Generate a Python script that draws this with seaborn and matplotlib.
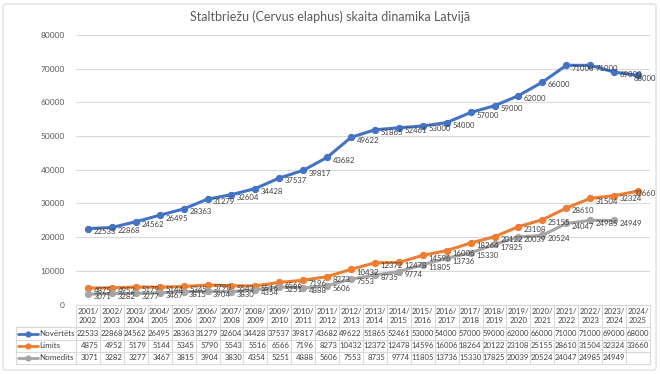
import numpy as np
import pandas as pd
import matplotlib
matplotlib.use("Agg")
import matplotlib.pyplot as plt
import matplotlib.transforms as mtransforms
from matplotlib.patches import FancyBboxPatch
from matplotlib.lines import Line2D
import seaborn as sns

seasons = ["2001/2002", "2002/2003", "2003/2004", "2004/2005", "2005/2006", "2006/2007",
           "2007/2008", "2008/2009", "2009/2010", "2010/2011", "2011/2012", "2012/2013",
           "2013/2014", "2014/2015", "2015/2016", "2016/2017", "2017/2018", "2018/2019",
           "2019/2020", "2020/2021", "2021/2022", "2022/2023", "2023/2024", "2024/2025"]
novertets = [22533, 22868, 24562, 26495, 28363, 31279, 32604, 34428, 37537, 39817, 43682, 49622,
             51865, 52461, 53000, 54000, 57000, 59000, 62000, 66000, 71000, 71000, 69000, 68000]
limits = [4875, 4952, 5179, 5144, 5345, 5790, 5543, 5516, 6566, 7196, 8273, 10432,
          12372, 12478, 14596, 16006, 18264, 20122, 23108, 25155, 28610, 31504, 32324, 33660]
nomedits = [3071, 3282, 3277, 3467, 3815, 3904, 3830, 4354, 5251, 4888, 5606, 7553,
            8735, 9774, 11805, 13736, 15330, 17825, 20039, 20524, 24047, 24985, 24949, np.nan]

series_names = ["Novērtēts", "Limits", "Nomedīts"]
colors = ["#4472C4", "#ED7D31", "#A5A5A5"]
title = "Staltbriežu (Cervus elaphus) skaita dinamika Latvijā"

W, H = 660, 374
sns.set_style("white")
plt.rcParams["font.family"] = ["Lato", "DejaVu Sans"]

fig = plt.figure(figsize=(W / 100, H / 100), dpi=100)
fig.patch.set_facecolor("white")

# chart border
fig.patches.append(FancyBboxPatch((3 / W, 4 / H), 653 / W, 366 / H,
                                  boxstyle="round,pad=0,rounding_size=0.005",
                                  transform=fig.transFigure, fill=False,
                                  edgecolor="#D9D9D9", linewidth=0.8))

y_top, y_zero = 35, 304.5
ax = fig.add_axes([76 / W, (H - y_zero) / H, (650 - 76) / W, (y_zero - y_top) / H])

df = pd.DataFrame({"idx": np.arange(len(seasons)),
                   series_names[0]: novertets,
                   series_names[1]: limits,
                   series_names[2]: nomedits})

last = len(seasons) - 1
for name, c in zip(series_names, colors):
    sub = df[["idx", name]].dropna()
    sns.lineplot(data=sub, x="idx", y=name, ax=ax, color=c, linewidth=2.2,
                 marker="o", markersize=4.5, markeredgecolor=c, zorder=3)
    for xi, v in zip(sub["idx"], sub[name]):
        # labels on the last column are pushed back inside the chart, like Excel does
        dx = -3 if xi == last else 4
        ax.annotate(f"{int(v)}", (xi, v), xytext=(dx, -2), textcoords="offset points",
                    ha="left", va="center", fontsize=5.6, color="#404040", zorder=4)

ax.set_xlim(-0.5, len(seasons) - 0.5)
ax.set_ylim(0, 80000)
ax.set_yticks(np.arange(0, 80001, 10000))
ax.set_yticklabels([str(v) for v in range(0, 80001, 10000)])
ax.set_xticks([])
ax.set_xlabel("")
ax.set_ylabel("")
ax.grid(axis="y", color="#D9D9D9", linewidth=0.8)
ax.set_axisbelow(True)
for s in ["top", "right", "left"]:
    ax.spines[s].set_visible(False)
ax.spines["bottom"].set_color("#D9D9D9")
ax.tick_params(axis="y", length=0, labelsize=6, labelcolor="#595959", pad=8)

fig.text(0.5, 1 - 17 / H, title, ha="center", va="center", fontsize=9, color="#595959")

# data table below the plot
tr = mtransforms.blended_transform_factory(ax.transData, fig.transFigure)
def fy(p):
    return 1 - p / H

grid_c = "#D9D9D9"
rows_y = [y_zero, 327, 340, 352, 364]
n = len(seasons)
for i in range(n + 1):
    fig.add_artist(Line2D([i - 0.5, i - 0.5], [fy(rows_y[0]), fy(rows_y[-1])],
                          transform=tr, color=grid_c, linewidth=0.8))
for yy in rows_y[1:]:
    fig.add_artist(Line2D([16 / W, 76 / W], [fy(yy), fy(yy)], transform=fig.transFigure,
                          color=grid_c, linewidth=0.8))
    fig.add_artist(Line2D([-0.5, n - 0.5], [fy(yy), fy(yy)], transform=tr,
                          color=grid_c, linewidth=0.8))
for xx in [16, 76]:
    fig.add_artist(Line2D([xx / W, xx / W], [fy(rows_y[1]), fy(rows_y[-1])],
                          transform=fig.transFigure, color=grid_c, linewidth=0.8))

for i, s in enumerate(seasons):
    a, b = s.split("/")
    fig.text(i, fy((y_zero + 327) / 2), f"{a}/\n{b}", transform=tr, ha="center", va="center",
             fontsize=5.6, color="#404040", linespacing=1.3)

table_vals = [novertets, limits, nomedits]
for r, (name, c, vals) in enumerate(zip(series_names, colors, table_vals)):
    yc = fy((rows_y[r + 1] + rows_y[r + 2]) / 2)
    fig.add_artist(Line2D([18 / W, 38 / W], [yc, yc], transform=fig.transFigure, color=c,
                          linewidth=2))
    fig.add_artist(Line2D([28 / W], [yc], transform=fig.transFigure, color=c,
                          marker="o", markersize=3.5, linestyle="none"))
    fig.text(39 / W, yc, name, ha="left", va="center", fontsize=5.8, color="#404040")
    for i, v in enumerate(vals):
        if not np.isnan(v):
            fig.text(i + 0.45, yc, f"{int(v)}", transform=tr, ha="right", va="center",
                     fontsize=5.6, color="#404040")

fig.savefig("out.png", dpi=100, facecolor="white")
